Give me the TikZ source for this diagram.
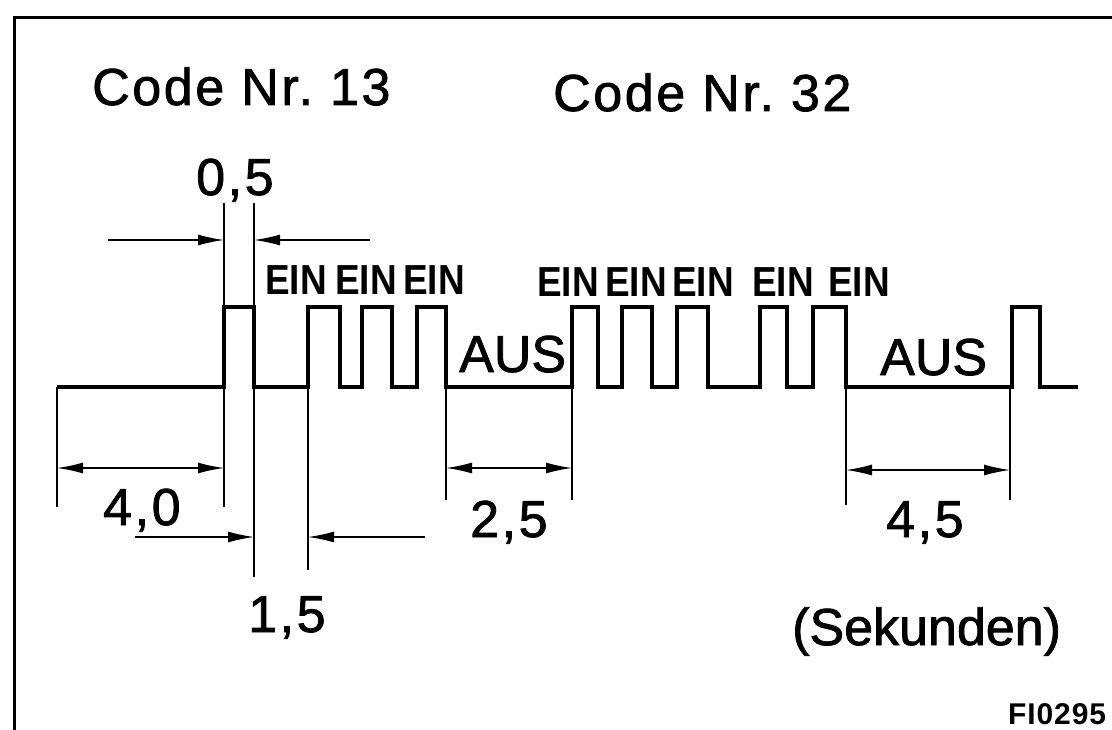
\documentclass[tikz,border=0pt]{standalone}
\usepackage{fontspec}
\setmainfont{Liberation Sans}[FakeBold=1.5]
\newfontfamily\spacedfont{Liberation Sans}[LetterSpace=5,FakeBold=1.5]
\newfontfamily\einfont{Liberation Sans Bold}[FakeStretch=0.88]
\newfontfamily\reffont{Liberation Sans Bold}[LetterSpace=3]
\usetikzlibrary{arrows.meta}
\tikzset{
  wave/.style={line width=4pt, line join=miter},
  frameline/.style={line width=3pt},
  ext/.style={line width=1.8pt},
  dim/.style={line width=1.5pt, arrows={-{Latex[length=26pt,width=11pt]}}},
  dimboth/.style={line width=1.5pt, arrows={{Latex[length=26pt,width=11pt]}-{Latex[length=26pt,width=11pt]}}},
  lbl/.style={anchor=base west, inner sep=0pt, font=\fontsize{52}{56}\selectfont},
  num/.style={anchor=base west, inner sep=0pt, font=\spacedfont\fontsize{52}{56}\selectfont},
  ein/.style={anchor=base west, inner sep=0pt, font=\einfont\fontsize{42}{46}\selectfont},
  code/.style={anchor=base west, inner sep=0pt, font=\spacedfont\fontsize{52}{56}\selectfont},
}
\begin{document}
\begin{tikzpicture}[x=1pt,y=-1pt]
\useasboundingbox (0,0) rectangle (1112,730);
% frame
\draw[frameline] (14,730) -- (14,18) -- (1112,18);
% titles
\node[code] (c13) at (92,105) {Code Nr.\ 13};
\node[code] (c32) at (553,111) {Code Nr.\ 32};
% waveform
\draw[wave] (57,387)
  \foreach \a/\b in {224/254,308/340,362/392,417/446,572/598,622/652,677/708,760/787,813/846,1012/1040}
  { -- (\a,387) -- (\a,307) -- (\b,307) -- (\b,387) } -- (1078,387);
% key coordinates
\coordinate (s0) at (57,387);
\coordinate (p1a) at (224,307);
\coordinate (p1b) at (254,307);
\coordinate (p1aB) at (224,387);
\coordinate (p1bB) at (254,387);
\coordinate (p2aB) at (308,387);
\coordinate (g1a) at (446,387);
\coordinate (g1b) at (572,387);
\coordinate (g2a) at (846,387);
\coordinate (g2b) at (1010,387);
% 0,5 dimension
\coordinate (t05a) at (224,203);
\coordinate (t05b) at (254,203);
\draw[ext] (t05a) -- (p1a);
\draw[ext] (t05b) -- (p1b);
\coordinate (a05l) at (108,240);
\coordinate (a05lE) at (224,240);
\coordinate (a05r) at (370,240);
\coordinate (a05rE) at (254,240);
\draw[dim] (a05l) -- (a05lE);
\draw[dim] (a05r) -- (a05rE);
\node[num] (l05) at (196,195) {0,5};
% 4,0 dimension
\coordinate (e40a) at (57,507);
\coordinate (e40b) at (224,507);
\draw[ext] (s0) -- (e40a);
\draw[ext] (p1aB) -- (e40b);
\coordinate (d40a) at (57,468);
\coordinate (d40b) at (224,468);
\draw[dimboth] (d40a) -- (d40b);
\node[num] (l40) at (103,525) {4,0};
% 1,5 dimension
\coordinate (e15a) at (254,577);
\coordinate (e15b) at (308,570);
\draw[ext] (p1bB) -- (e15a);
\draw[ext] (p2aB) -- (e15b);
\coordinate (a15l) at (135,537);
\coordinate (a15lE) at (254,537);
\coordinate (a15r) at (425,537);
\coordinate (a15rE) at (308,537);
\draw[dim] (a15l) -- (a15lE);
\draw[dim] (a15r) -- (a15rE);
\node[num] (l15) at (248,632) {1,5};
% 2,5 dimension
\coordinate (e25a) at (446,500);
\coordinate (e25b) at (572,500);
\draw[ext] (g1a) -- (e25a);
\draw[ext] (g1b) -- (e25b);
\coordinate (d25a) at (446,468);
\coordinate (d25b) at (572,468);
\draw[dimboth] (d25a) -- (d25b);
\node[num] (l25) at (470,537) {2,5};
% 4,5 dimension
\coordinate (e45a) at (846,505);
\coordinate (e45b) at (1010,500);
\draw[ext] (g2a) -- (e45a);
\draw[ext] (g2b) -- (e45b);
\coordinate (d45a) at (846,470);
\coordinate (d45b) at (1010,470);
\draw[dimboth] (d45a) -- (d45b);
\node[num] (l45) at (886,537) {4,5};
% EIN / AUS labels
\node[ein] (e1) at (265,295) {EIN};
\node[ein] (e2) at (335,295) {EIN};
\node[ein] (e3) at (403,295) {EIN};
\node[ein] (e4) at (537,297) {EIN};
\node[ein] (e5) at (605,297) {EIN};
\node[ein] (e6) at (672,297) {EIN};
\node[ein] (e7) at (752,297) {EIN};
\node[ein] (e8) at (828,297) {EIN};
\node[lbl] (aus1) at (459,372) {AUS};
\node[lbl] (aus2) at (880,375) {AUS};
% units and reference
\node[lbl] (sek) at (792,645) {(Sekunden)};
\node[anchor=base west, inner sep=0pt, font=\reffont\fontsize{30}{33}\selectfont] (ref) at (1008,724) {FI0295};
\end{tikzpicture}
\end{document}
